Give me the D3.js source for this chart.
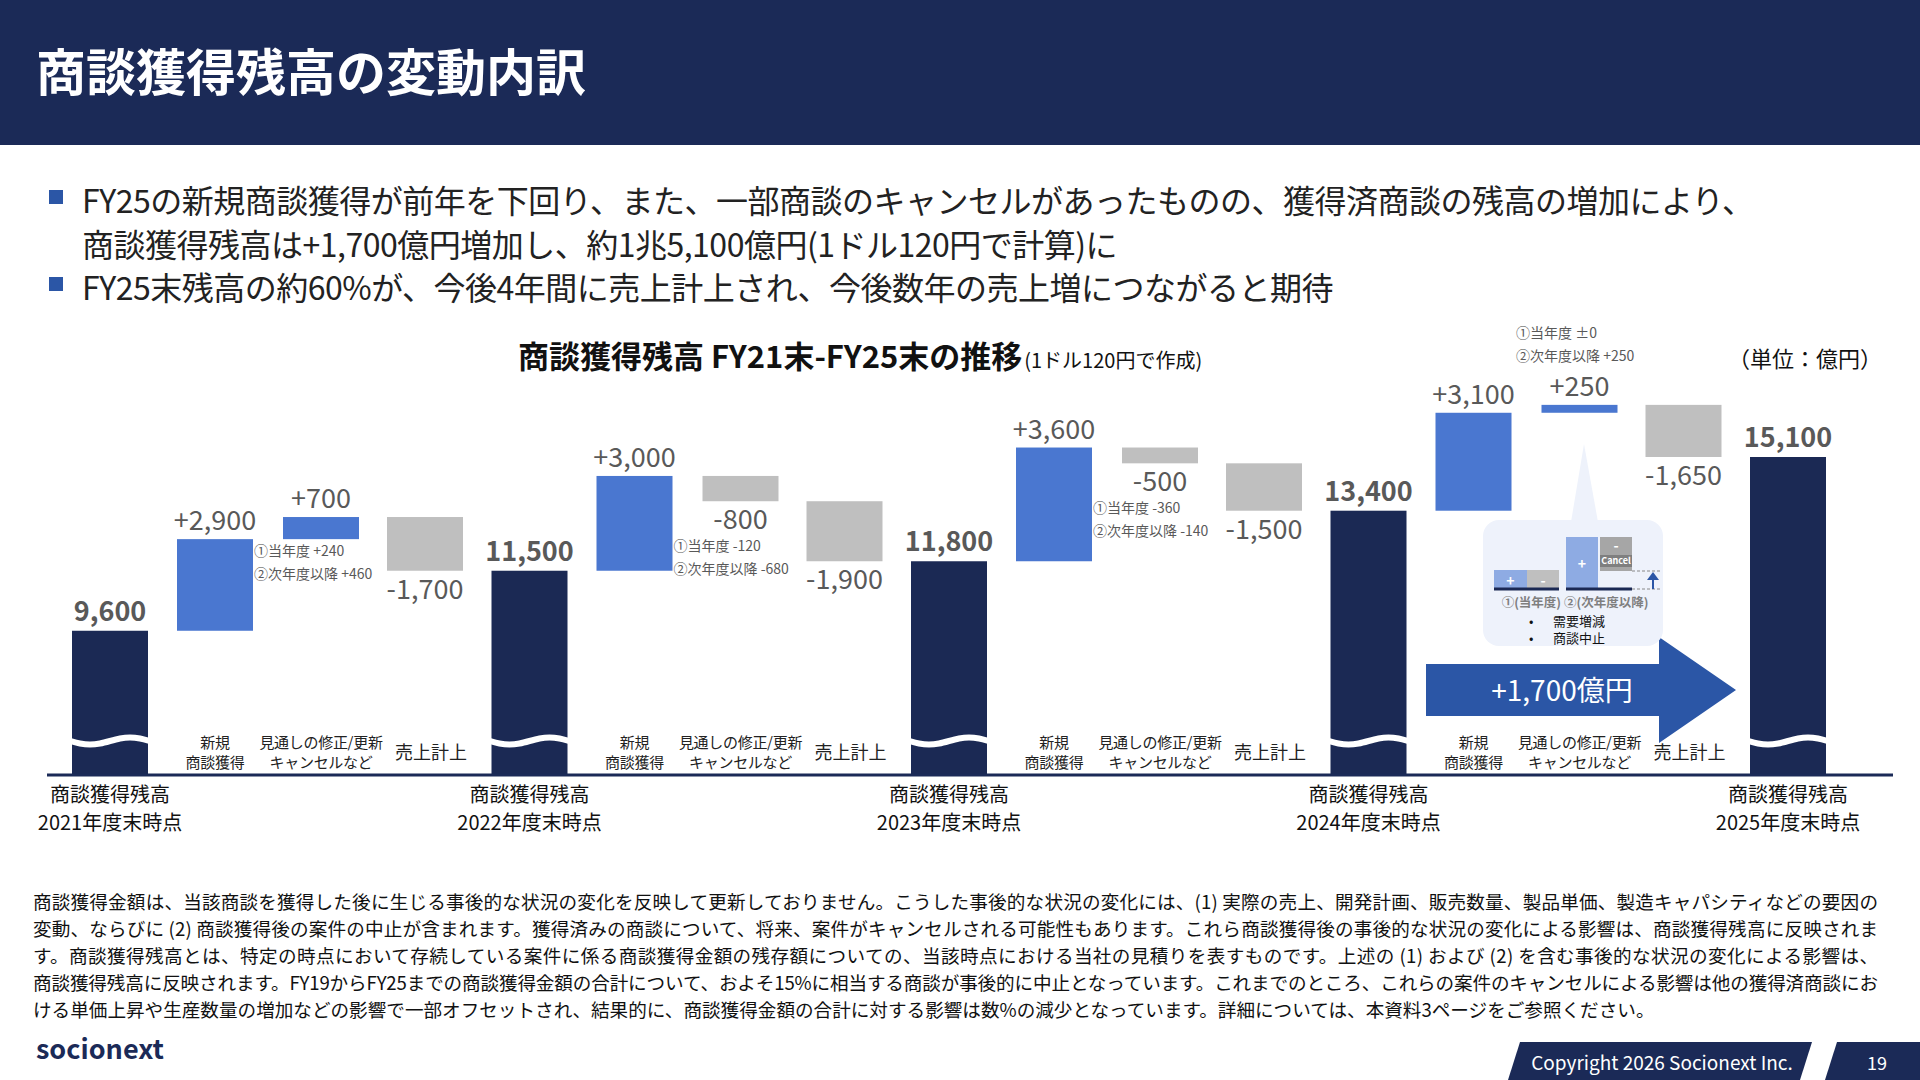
<!DOCTYPE html>
<html><head><meta charset="utf-8">
<script src="https://cdn.jsdelivr.net/npm/d3@7"></script>
<style>body{margin:0;background:#fff}svg{display:block}text{font-family:"Noto Sans CJK JP","Noto Sans",sans-serif}</style>
</head><body><svg id="c" width="1920" height="1080"></svg>
<script>
const years=["2021","2022","2023","2024","2025"];
const totals=[9600,11500,11800,13400,15100];
const newAcq=[2900,3000,3600,3100];
const revision=[700,-800,-500,250];
const sales=[-1700,-1900,-1500,-1650];
const revSub=[["①当年度 +240","②次年度以降 +460"],["①当年度 -120","②次年度以降 -680"],["①当年度 -360","②次年度以降 -140"],["①当年度 ±0","②次年度以降 +250"]];
const bullets=["FY25の新規商談獲得が前年を下回り、また、一部商談のキャンセルがあったものの、獲得済商談の残高の増加により、","商談獲得残高は+1,700億円増加し、約1兆5,100億円(1ドル120円で計算)に","FY25末残高の約60%が、今後4年間に売上計上され、今後数年の売上増につながると期待"];
const notes=["商談獲得金額は、当該商談を獲得した後に生じる事後的な状況の変化を反映して更新しておりません。こうした事後的な状況の変化には、(1) 実際の売上、開発計画、販売数量、製品単価、製造キャパシティなどの要因の",
"変動、ならびに (2) 商談獲得後の案件の中止が含まれます。獲得済みの商談について、将来、案件がキャンセルされる可能性もあります。これら商談獲得後の事後的な状況の変化による影響は、商談獲得残高に反映されま",
"す。商談獲得残高とは、特定の時点において存続している案件に係る商談獲得金額の残存額についての、当該時点における当社の見積りを表すものです。上述の (1) および (2) を含む事後的な状況の変化による影響は、",
"商談獲得残高に反映されます。FY19からFY25までの商談獲得金額の合計について、およそ15%に相当する商談が事後的に中止となっています。これまでのところ、これらの案件のキャンセルによる影響は他の獲得済商談にお",
"ける単価上昇や生産数量の増加などの影響で一部オフセットされ、結果的に、商談獲得金額の合計に対する影響は数%の減少となっています。詳細については、本資料3ページをご参照ください。"];
const fmt=d3.format(",");
const svg=d3.select("#c");
const NAVY="#1b2954",BLUE="#4a77d0",GRAY="#bfbfbf",TXT="#595959";
svg.append("rect").attr("width",1920).attr("height",145).attr("fill","#1b2a57");
svg.append("text").attr("x",36).attr("y",91).attr("fill","#fff").attr("font-size",50).attr("font-weight",700).text("商談獲得残高の変動内訳");
const by=[203,247,290];
bullets.forEach((b,i)=>{
  if(i!==1) svg.append("rect").attr("x",49).attr("y",by[i]-13).attr("width",14).attr("height",14).attr("fill","#2b56a6");
  svg.append("text").attr("x",82).attr("y",by[i]+10).attr("font-size",32).attr("fill","#222").attr("letter-spacing",-0.5).text(b);
});
const t=svg.append("text").attr("x",518).attr("y",368).attr("font-size",31).attr("font-weight",700).attr("fill","#111");
t.append("tspan").text("商談獲得残高 FY21末-FY25末の推移");
t.append("tspan").attr("font-size",20).attr("font-weight",400).attr("dx",2).text("(1ドル120円で作成)");
svg.append("text").attr("x",1882).attr("y",367).attr("text-anchor","end").attr("font-size",22).attr("fill","#111").text("（単位：億円）");
const y=d3.scaleLinear().domain([5066,15100]).range([774,457]);
const x=d3.scaleLinear().domain([0,4]).range([110,1788]);
const W=76, off=[105,211,315];
const base=774;
totals.forEach((v,i)=>{
  const cx=x(i);
  svg.append("rect").attr("x",cx-W/2).attr("y",y(v)).attr("width",W).attr("height",base-y(v)).attr("fill",NAVY);
  const wave=d3.line().curve(d3.curveBasis)(d3.range(0,9).map(k=>[cx-W/2-2+k*(W+4)/8,741+Math.sin(k/8*2*Math.PI)*4]));
  svg.append("path").attr("d",wave).attr("stroke","#fff").attr("stroke-width",6).attr("fill","none");
  svg.append("text").attr("x",cx).attr("y",y(v)-10).attr("text-anchor","middle").attr("font-size",27).attr("font-weight",700).attr("fill",TXT).attr("font-family","Liberation Sans, Arial").text(fmt(v));
  [["商談獲得残高",802],[years[i]+"年度末時点",830]].forEach(([s,yy])=>svg.append("text").attr("x",cx).attr("y",yy).attr("text-anchor","middle").attr("font-size",20).attr("fill","#111").text(s));
});
newAcq.forEach((n,i)=>{
  let cur=totals[i];
  [[n,BLUE],[revision[i],revision[i]>=0?BLUE:GRAY],[sales[i],GRAY]].forEach(([d,col],j)=>{
    const cx=x(i)+off[j];
    const top=y(Math.max(cur,cur+d)), bot=y(Math.min(cur,cur+d));
    svg.append("rect").attr("x",cx-W/2).attr("y",top).attr("width",W).attr("height",Math.max(bot-top,0)).attr("fill",col);
    const lbl=(d>0?"+":"-")+fmt(Math.abs(d));
    svg.append("text").attr("x",cx).attr("y",d>0?top-9:bot+28).attr("text-anchor","middle").attr("font-size",27).attr("fill",TXT).attr("font-family","Liberation Sans, Arial").text(lbl);
    if(j===1){
      const lx=x(i)+off[0]+W/2+1;
      let y0 = i===3? 338 : (d>0? bot+17 : bot+50);
      revSub[i].forEach((s,k)=>svg.append("text").attr("x",i===3?1516:lx).attr("y",y0+k*23).attr("font-size",14).attr("fill",TXT).text(s));
    }
    cur+=d;
  });
  const gx=x(i);
  [["新規",742,off[0]],["商談獲得",762,off[0]],["見通しの修正/更新",742,off[1]],["キャンセルなど",762,off[1]]].forEach(([s,yy,o])=>svg.append("text").attr("x",gx+o).attr("y",yy+6).attr("text-anchor","middle").attr("font-size",15).attr("fill","#222").attr("letter-spacing",-0.3).text(s));
  svg.append("text").attr("x",gx+off[2]+6).attr("y",759).attr("text-anchor","middle").attr("font-size",18).attr("fill","#222").text("売上計上");
});
svg.append("line").attr("x1",47).attr("x2",1893).attr("y1",base+1).attr("y2",base+1).attr("stroke","#1b2a57").attr("stroke-width",3);
svg.append("path").attr("d","M1426,664 L1659,664 L1659,637 L1736,690 L1659,743 L1659,716 L1426,716 Z").attr("fill","#2b56a6");
svg.append("text").attr("x",1562).attr("y",701).attr("text-anchor","middle").attr("fill","#fff").attr("font-size",28).text("+1,700億円");
svg.append("path").attr("d","M1571,522 L1598,522 L1584,444 Z").attr("fill","#eef2fb");
svg.append("rect").attr("x",1483).attr("y",520).attr("width",180).attr("height",126).attr("rx",16).attr("fill","#eef2fb");
const mini=[[1494,570,33,"#8eabe3","+"],[1527,570,32,GRAY,"-"],[1566,537,32,"#8eabe3","+"],[1600,537,32,"#a6a6a6","-"]];
mini.forEach(([mx,my,mw,c,s],k)=>{
  const h=k===3?34:589-my;
  svg.append("rect").attr("x",mx).attr("y",my).attr("width",mw).attr("height",h).attr("fill",c);
  svg.append("text").attr("x",mx+mw/2).attr("y",k===3?my+14:my+h/2+6).attr("text-anchor","middle").attr("fill","#fff").attr("font-size",14).attr("font-weight",700).text(s);
});
svg.append("rect").attr("x",1600).attr("y",555).attr("width",32).attr("height",12).attr("fill","#7f7f7f");
svg.append("text").attr("x",1616).attr("y",564).attr("text-anchor","middle").attr("fill","#fff").attr("font-size",9).attr("font-weight",700).text("Cancel");
[[1494,1559],[1566,1632]].forEach(([a,b])=>svg.append("line").attr("x1",a).attr("x2",b).attr("y1",589).attr("y2",589).attr("stroke",NAVY).attr("stroke-width",3));
[571,589].forEach(yy=>svg.append("line").attr("x1",1632).attr("x2",1660).attr("y1",yy).attr("y2",yy).attr("stroke","#888").attr("stroke-dasharray","3,2"));
svg.append("line").attr("x1",1653).attr("x2",1653).attr("y1",589).attr("y2",578).attr("stroke","#2b56a6").attr("stroke-width",2);
svg.append("path").attr("d","M1647,580 L1659,580 L1653,572 Z").attr("fill","#2b56a6");
svg.append("text").attr("x",1575).attr("y",607).attr("text-anchor","middle").attr("font-size",12.5).attr("font-weight",700).attr("fill","#7f7f7f").text("①(当年度) ②(次年度以降)");
[["需要増減",626],["商談中止",643]].forEach(([s,yy])=>{svg.append("text").attr("x",1529).attr("y",yy).attr("font-size",13).attr("fill","#111").text("•");svg.append("text").attr("x",1553).attr("y",yy).attr("font-size",13).attr("fill","#111").text(s);});
notes.forEach((s,i)=>svg.append("text").attr("x",33).attr("y",909+i*27).attr("font-size",18.6).attr("fill","#111").attr("textLength",i<4?1845:null).text(s));
svg.append("text").attr("x",36).attr("y",1059).attr("font-size",27).attr("font-weight",700).attr("fill","#1b2a57").attr("font-family","Liberation Sans, Arial").text("socionext");
svg.append("path").attr("d","M1520,1042 L1812,1042 L1800,1080 L1508,1080 Z").attr("fill","#1b2a57");
svg.append("path").attr("d","M1837,1042 L1920,1042 L1920,1080 L1825,1080 Z").attr("fill","#1b2a57");
svg.append("text").attr("x",1662).attr("y",1070).attr("text-anchor","middle").attr("fill","#fff").attr("font-size",19).text("Copyright 2026 Socionext Inc.");
svg.append("text").attr("x",1877).attr("y",1070).attr("text-anchor","middle").attr("fill","#fff").attr("font-size",18).text("19");
</script></body></html>
